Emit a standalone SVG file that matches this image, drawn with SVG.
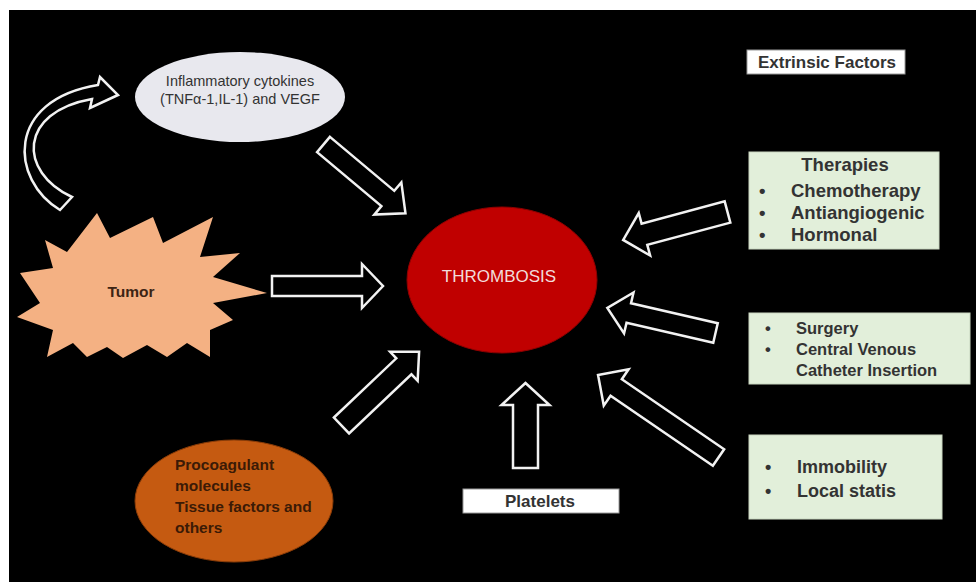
<svg xmlns="http://www.w3.org/2000/svg" width="976" height="582" viewBox="0 0 976 582">
<style>
.arr{fill:none;stroke:#f2f2f2;stroke-width:2.5;stroke-linejoin:miter}
.lbl{font-family:"Liberation Sans",Arial,sans-serif;fill:#333}
.b{font-weight:bold}
.box{fill:#e2efda;stroke:#c9d6c0;stroke-width:1}
.wbox{fill:#ffffff;stroke:#9a9a9a;stroke-width:1}
</style>
<rect x="0" y="0" width="976" height="582" fill="#ffffff"/>
<rect x="9" y="10" width="967" height="572" fill="#000000"/>

<g id="connectors">
  <path class="arr" d="M60,210 C10,180 5,100 98,85 L100,77 L118,95 L90,108 L92,99 C18,112 18,172 72,197 Z"/>
  <path class="arr" transform="translate(323.5,144.5) rotate(40)" d="M0,-10 L84,-10 L84,-21 L107,0 L84,21 L84,10 L0,10 Z"/>
  <path class="arr" transform="translate(272,286)" d="M0,-10 L90,-10 L90,-22 L111,0 L90,22 L90,10 L0,10 Z"/>
  <path class="arr" transform="translate(341.5,425.5) rotate(-43.5)" d="M0,-11 L86,-11 L86,-20 L107,0 L86,20 L86,11 L0,11 Z"/>
  <path class="arr" transform="translate(525.5,468) rotate(-90)" d="M0,-12.5 L63,-12.5 L63,-24 L85,0 L63,24 L63,12.5 L0,12.5 Z"/>
  <path class="arr" transform="translate(727.5,212) rotate(165)" d="M0,-11 L86,-11 L86,-22 L108,0 L86,22 L86,11 L0,11 Z"/>
  <path class="arr" transform="translate(715.5,333) rotate(193)" d="M0,-10 L89,-10 L89,-21 L111,0 L89,21 L89,10 L0,10 Z"/>
  <path class="arr" transform="translate(718.5,457.5) rotate(214.4)" d="M0,-10 L124,-10 L124,-22 L146,0 L124,22 L124,10 L0,10 Z"/>
</g>

<g id="inflammatory">
  <ellipse cx="240" cy="97" rx="105" ry="45" fill="#e8e8ee"/>
  <text class="lbl" x="240" y="86" font-size="14.5" text-anchor="middle">Inflammatory cytokines</text>
  <text class="lbl" x="240" y="104" font-size="14.5" text-anchor="middle">(TNFα-1,IL-1) and VEGF</text>
</g>

<g id="tumor">
  <polygon points="45,240 67,252 97,213 110,238 153,217 163,243 213,217 200,257 240,253 213,277 267,293 213,303 233,320 210,330 210,357 187,343 167,357 147,345 123,358 107,347 87,357 73,343 47,357 53,330 17,317 40,303 20,273 53,268" fill="#f4b183"/>
  <text class="lbl b" x="131" y="297" font-size="15.5" text-anchor="middle" fill="#3d2414" style="fill:#3d2414">Tumor</text>
</g>

<g id="thrombosis">
  <ellipse cx="502" cy="280" rx="95" ry="73" fill="#c00000" stroke="#8e0000" stroke-width="1"/>
  <text x="499" y="282" font-family="'Liberation Sans',Arial,sans-serif" font-size="17" fill="#f2dcdb" text-anchor="middle">THROMBOSIS</text>
</g>

<g id="procoagulant">
  <ellipse cx="234" cy="501" rx="99" ry="61" fill="#c55a11" stroke="#8a3c08" stroke-width="1"/>
  <text class="lbl b" font-size="15.5" style="fill:#3b1a06">
    <tspan x="175" y="470">Procoagulant</tspan>
    <tspan x="175" y="491">molecules</tspan>
    <tspan x="175" y="512">Tissue factors and</tspan>
    <tspan x="175" y="533">others</tspan>
  </text>
</g>

<g id="platelets">
  <rect class="wbox" x="463" y="489" width="156" height="24"/>
  <text class="lbl b" x="540" y="507" font-size="17" text-anchor="middle">Platelets</text>
</g>

<g id="extrinsic">
  <rect class="wbox" x="747" y="50" width="158" height="24"/>
  <text class="lbl b" x="827" y="68" font-size="17" text-anchor="middle">Extrinsic Factors</text>
</g>

<g id="therapies">
  <rect class="box" x="749" y="152" width="190" height="97"/>
  <text class="lbl b" x="845" y="171" font-size="18.5" text-anchor="middle">Therapies</text>
  <text class="lbl b" font-size="18.5">
    <tspan x="759" y="197">•</tspan><tspan x="791" y="197">Chemotherapy</tspan>
    <tspan x="759" y="219">•</tspan><tspan x="791" y="219">Antiangiogenic</tspan>
    <tspan x="759" y="241">•</tspan><tspan x="791" y="241">Hormonal</tspan>
  </text>
</g>

<g id="surgery">
  <rect class="box" x="749" y="313" width="221" height="71"/>
  <text class="lbl b" font-size="16.5">
    <tspan x="765" y="334">•</tspan><tspan x="796" y="334">Surgery</tspan>
    <tspan x="765" y="355">•</tspan><tspan x="796" y="355">Central Venous</tspan>
    <tspan x="796" y="376">Catheter Insertion</tspan>
  </text>
</g>

<g id="immobility">
  <rect class="box" x="749" y="435" width="193" height="84"/>
  <text class="lbl b" font-size="18">
    <tspan x="765" y="473">•</tspan><tspan x="797" y="473">Immobility</tspan>
    <tspan x="765" y="497">•</tspan><tspan x="797" y="497">Local statis</tspan>
  </text>
</g>
</svg>
